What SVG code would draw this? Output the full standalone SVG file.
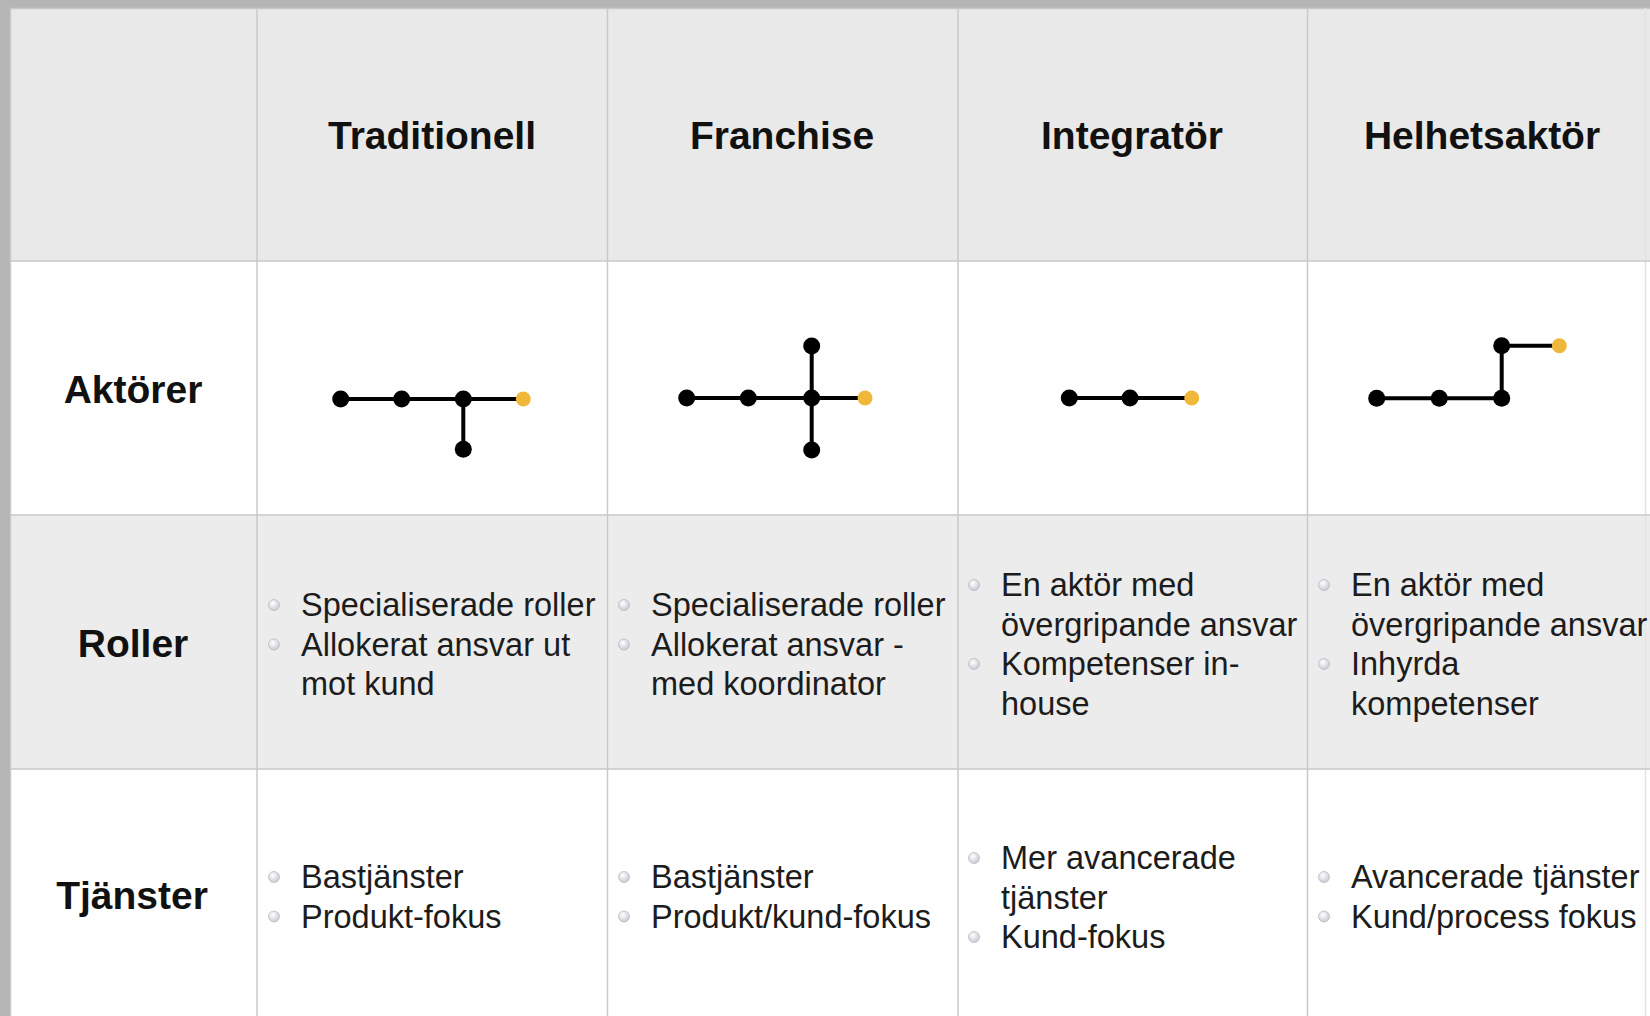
<svg xmlns="http://www.w3.org/2000/svg" width="1650" height="1016" viewBox="0 0 1650 1016">
<style>
.hd{font-family:"Liberation Sans",Arial,sans-serif;font-weight:bold;font-size:39px;fill:#111;text-anchor:middle}
.tx{font-family:"Liberation Sans",Arial,sans-serif;font-size:32.5px;fill:#1c1c1c}
.grid{stroke:#c9c9c9;stroke-width:1.5;fill:none}
.edge{stroke:#000;stroke-width:4;fill:none}
.nd{fill:#000}
.ny{fill:#f0b83a}
.bl{fill:url(#bg);stroke:#b9bcc6;stroke-width:0.8}
</style>
<defs>
<radialGradient id="bg" cx="0.4" cy="0.35" r="0.7">
<stop offset="0" stop-color="#ffffff"/>
<stop offset="1" stop-color="#c4c6d0"/>
</radialGradient>
</defs>
<rect x="0" y="0" width="1650" height="1016" fill="#b5b5b5"/>
<rect x="10" y="8" width="1640" height="253" fill="#e9e9e9"/>
<rect x="10" y="261" width="1640" height="254" fill="#ffffff"/>
<rect x="10" y="515" width="1640" height="254" fill="#ececec"/>
<rect x="10" y="769" width="1640" height="247" fill="#ffffff"/>
<g id="grid" class="grid">
<line x1="10" y1="8.5" x2="1650" y2="8.5"/>
<line x1="10.5" y1="8" x2="10.5" y2="1016"/>
<line x1="257" y1="8" x2="257" y2="1016"/>
<line x1="607.5" y1="8" x2="607.5" y2="1016"/>
<line x1="958" y1="8" x2="958" y2="1016"/>
<line x1="1307.5" y1="8" x2="1307.5" y2="1016"/>
<line x1="1645.5" y1="8" x2="1645.5" y2="1016" stroke="#e2e2e2"/>
<line x1="10" y1="261" x2="1650" y2="261"/>
<line x1="10" y1="515" x2="1650" y2="515"/>
<line x1="10" y1="769" x2="1650" y2="769"/>
</g>
<g id="headers">
<text class="hd" x="432" y="149">Traditionell</text>
<text class="hd" x="782" y="149">Franchise</text>
<text class="hd" x="1132" y="149">Integratör</text>
<text class="hd" x="1482" y="149">Helhetsaktör</text>
<text class="hd" x="133" y="403">Aktörer</text>
<text class="hd" x="133" y="657">Roller</text>
<text class="hd" x="132" y="909">Tjänster</text>
</g>
<g id="connectors">
<path class="edge" d="M340.7 399H523.3M463.3 399V449.3"/>
<path class="edge" d="M686.7 398H865M811.7 346V450"/>
<path class="edge" d="M1069.3 398H1191.7"/>
<path class="edge" d="M1376.7 398.3H1501.7V345.7H1559.3"/>
</g>
<g id="graph-traditionell">
<circle class="nd" cx="340.7" cy="399" r="8.5"/>
<circle class="nd" cx="401.7" cy="399" r="8.5"/>
<circle class="nd" cx="463.3" cy="399" r="8.5"/>
<circle class="nd" cx="463.3" cy="449.3" r="8.5"/>
<circle class="ny" cx="523.3" cy="399" r="7.5"/>
</g>
<g id="graph-franchise">
<circle class="nd" cx="686.7" cy="398" r="8.5"/>
<circle class="nd" cx="748.3" cy="398" r="8.5"/>
<circle class="nd" cx="811.7" cy="398" r="8.5"/>
<circle class="nd" cx="811.7" cy="346" r="8.5"/>
<circle class="nd" cx="811.7" cy="450" r="8.5"/>
<circle class="ny" cx="865" cy="398" r="7.5"/>
</g>
<g id="graph-integrator">
<circle class="nd" cx="1069.3" cy="398" r="8.5"/>
<circle class="nd" cx="1130" cy="398" r="8.5"/>
<circle class="ny" cx="1191.7" cy="398" r="7.5"/>
</g>
<g id="graph-helhetsaktor">
<circle class="nd" cx="1376.7" cy="398.3" r="8.5"/>
<circle class="nd" cx="1439.3" cy="398.3" r="8.5"/>
<circle class="nd" cx="1501.7" cy="398.3" r="8.5"/>
<circle class="nd" cx="1501.7" cy="345.7" r="8.5"/>
<circle class="ny" cx="1559.3" cy="345.7" r="7.5"/>
</g>
<g id="roller-traditionell">
<circle class="bl" cx="274" cy="605" r="5.5"/>
<circle class="bl" cx="274" cy="644.5" r="5.5"/>
<text class="tx" x="301" y="616">Specialiserade roller</text>
<text class="tx" x="301" y="655.5">Allokerat ansvar ut</text>
<text class="tx" x="301" y="695">mot kund</text>
</g>
<g id="roller-franchise">
<circle class="bl" cx="624" cy="605" r="5.5"/>
<circle class="bl" cx="624" cy="644.5" r="5.5"/>
<text class="tx" x="651" y="616">Specialiserade roller</text>
<text class="tx" x="651" y="655.5">Allokerat ansvar -</text>
<text class="tx" x="651" y="695">med koordinator</text>
</g>
<g id="roller-integrator">
<circle class="bl" cx="974" cy="585" r="5.5"/>
<circle class="bl" cx="974" cy="664" r="5.5"/>
<text class="tx" x="1001" y="596">En aktör med</text>
<text class="tx" x="1001" y="635.5">övergripande ansvar</text>
<text class="tx" x="1001" y="675">Kompetenser in-</text>
<text class="tx" x="1001" y="714.5">house</text>
</g>
<g id="roller-helhetsaktor">
<circle class="bl" cx="1324" cy="585" r="5.5"/>
<circle class="bl" cx="1324" cy="664" r="5.5"/>
<text class="tx" x="1351" y="596">En aktör med</text>
<text class="tx" x="1351" y="635.5">övergripande ansvar</text>
<text class="tx" x="1351" y="675">Inhyrda</text>
<text class="tx" x="1351" y="714.5">kompetenser</text>
</g>
<g id="tjanster-traditionell">
<circle class="bl" cx="274" cy="877" r="5.5"/>
<circle class="bl" cx="274" cy="916.5" r="5.5"/>
<text class="tx" x="301" y="888">Bastjänster</text>
<text class="tx" x="301" y="927.5">Produkt-fokus</text>
</g>
<g id="tjanster-franchise">
<circle class="bl" cx="624" cy="877" r="5.5"/>
<circle class="bl" cx="624" cy="916.5" r="5.5"/>
<text class="tx" x="651" y="888">Bastjänster</text>
<text class="tx" x="651" y="927.5">Produkt/kund-fokus</text>
</g>
<g id="tjanster-integrator">
<circle class="bl" cx="974" cy="858" r="5.5"/>
<circle class="bl" cx="974" cy="937" r="5.5"/>
<text class="tx" x="1001" y="869">Mer avancerade</text>
<text class="tx" x="1001" y="908.5">tjänster</text>
<text class="tx" x="1001" y="948">Kund-fokus</text>
</g>
<g id="tjanster-helhetsaktor">
<circle class="bl" cx="1324" cy="877" r="5.5"/>
<circle class="bl" cx="1324" cy="916.5" r="5.5"/>
<text class="tx" x="1351" y="888">Avancerade tjänster</text>
<text class="tx" x="1351" y="927.5">Kund/process fokus</text>
</g>
</svg>
